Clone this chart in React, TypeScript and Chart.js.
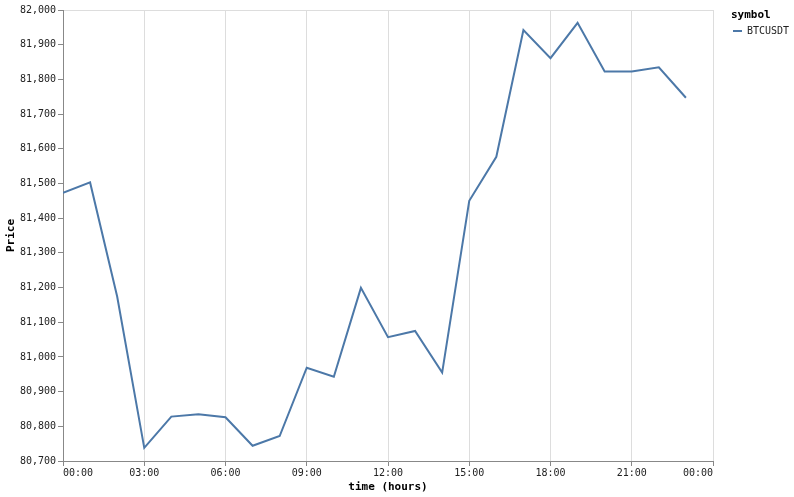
import { useEffect, useRef } from 'react';
import { Chart, registerables } from 'chart.js';
import React from 'react';

Chart.register(...registerables);

const hours = [0, 1, 2, 3, 4, 5, 6, 7, 8, 9, 10, 11, 12, 13, 14, 15, 16, 17, 18, 19, 20, 21, 22, 23];
const btcPrices = [
  81473, 81503, 81174, 80738, 80828, 80835, 80826, 80744, 80772, 80969, 80943, 81199,
  81057, 81075, 80955, 81450, 81577, 81942, 81861, 81963, 81823, 81823, 81835, 81747,
];
const seriesName = 'BTCUSDT';
const legendTitle = 'symbol';
const xTitle = 'time (hours)';
const yTitle = 'Price';

const MONO = '"DejaVu Sans Mono", monospace';
const LINE_COLOR = '#4c78a8';
const TEXT = '#222';

// legend drawn next to the plot, vega style
const sideLegend = {
  id: 'sideLegend',
  afterDraw(chart: any) {
    const { ctx, chartArea } = chart;
    const x = chartArea.right + 18;
    const top = chartArea.top;
    ctx.save();
    ctx.textBaseline = 'middle';
    ctx.textAlign = 'left';
    ctx.fillStyle = '#000';
    ctx.font = `bold 11px ${MONO}`;
    ctx.fillText(legendTitle, x, top + 5.5);
    chart.data.datasets.forEach((ds: any, i: number) => {
      const y = top + 21 + i * 16;
      ctx.strokeStyle = ds.borderColor;
      ctx.lineWidth = 2;
      ctx.beginPath();
      ctx.moveTo(x + 2, y);
      ctx.lineTo(x + 11, y);
      ctx.stroke();
      ctx.fillStyle = TEXT;
      ctx.font = `10px ${MONO}`;
      ctx.fillText(ds.label, x + 16, y);
    });
    ctx.restore();
  },
};

export default function App() {
  const chartRef = useRef<HTMLCanvasElement>(null);
  const chartInstance = useRef<Chart | null>(null);

  useEffect(() => {
    if (!chartRef.current) return;
    if (chartInstance.current) chartInstance.current.destroy();
    const ctx = chartRef.current.getContext('2d');
    if (!ctx) return;

    chartInstance.current = new Chart(ctx, {
      type: 'line',
      data: {
        datasets: [
          {
            label: seriesName,
            data: hours.map((h, i) => ({ x: h, y: btcPrices[i] })),
            borderColor: LINE_COLOR,
            backgroundColor: LINE_COLOR,
            borderWidth: 2,
            pointRadius: 0,
            tension: 0,
            fill: false,
          },
        ],
      },
      options: {
        animation: false,
        responsive: true,
        maintainAspectRatio: false,
        layout: { padding: { top: 10, right: 81, bottom: 0, left: 0 } },
        plugins: {
          legend: { display: false },
          tooltip: { enabled: false },
        },
        scales: {
          x: {
            type: 'linear',
            min: 0,
            max: 24,
            afterFit: (scale: any) => {
              scale.height = 36;
            },
            grid: {
              color: '#ddd',
              tickColor: '#888',
              tickLength: 5,
            },
            border: { color: '#888', width: 1 },
            ticks: {
              stepSize: 3,
              padding: 1,
              maxRotation: 0,
              align: 'inner',
              color: TEXT,
              font: { family: MONO, size: 10 },
              callback: (value) => String((value as number) % 24).padStart(2, '0') + ':00',
            },
            title: {
              display: true,
              text: xTitle,
              color: '#000',
              font: { family: MONO, size: 11, weight: 'bold' },
              padding: { top: 0, bottom: 3 },
            },
          },
          y: {
            min: 80700,
            max: 82000,
            afterFit: (scale: any) => {
              scale.width = 63;
            },
            grid: {
              color: (c: any) => (c.tick && c.tick.value === 82000 ? '#ddd' : 'rgba(0,0,0,0)'),
              tickColor: '#888',
              tickLength: 5,
            },
            border: { color: '#888', width: 1 },
            ticks: {
              stepSize: 100,
              padding: 2,
              color: TEXT,
              font: { family: MONO, size: 10 },
              callback: (value) => (value as number).toLocaleString('en-US'),
            },
            title: {
              display: true,
              text: yTitle,
              color: '#000',
              font: { family: MONO, size: 11, weight: 'bold' },
              padding: { top: 5, bottom: 0 },
            },
          },
        },
      },
      plugins: [sideLegend],
    });

    return () => {
      if (chartInstance.current) {
        chartInstance.current.destroy();
        chartInstance.current = null;
      }
    };
  }, []);

  return (
    <div style={{ position: 'absolute', left: 0, top: 0, width: '794px', height: '497px', background: '#fff' }}>
      <canvas ref={chartRef} aria-label="BTCUSDT price by hour" role="img"></canvas>
    </div>
  );
}
